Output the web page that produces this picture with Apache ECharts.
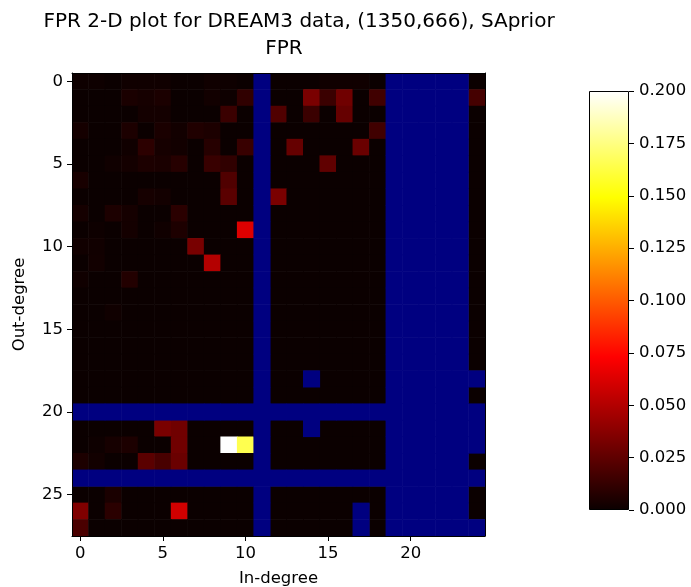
<!DOCTYPE html>
<html>
<head>
<meta charset="utf-8">
<script src="https://cdn.jsdelivr.net/npm/echarts@6/dist/echarts.min.js"></script>
<style>html,body{margin:0;padding:0;background:#fff}#c{width:691px;height:587px}</style>
</head>
<body>
<div id="c"></div>
<script>
const N = null; // masked (NaN) cell
const inDegree = Array.from({length: 25}, (_, i) => String(i));
const outDegree = Array.from({length: 28}, (_, i) => String(i));
const colorbarTicks = [0, 0.025, 0.05, 0.075, 0.1, 0.125, 0.15, 0.175, 0.2];
const fpr = [
 [0.001,0.001,0,0.0015,0.0015,0.0015,0,0,0.0015,0.001,0, N, 0,0,0,0.0015,0.0015,0.0015,0, N,N,N,N,N, 0],
 [0,0,0,0.0046,0.0035,0.005,0,0,0.0022,0.001,0.0112, N, 0,0,0.0333,0.0142,0.0303,0,0.016, N,N,N,N,N, 0.0175],
 [0,0,0,0,0.0028,0.0028,0,0,0,0.0142,0, N, 0.0207,0,0.0142,0,0.027,0,0, N,N,N,N,N, 0],
 [0.0032,0,0,0.0052,0,0.0046,0.0022,0.0064,0.0052,0,0, N, 0,0,0,0,0,0,0.016, N,N,N,N,N, 0],
 [0,0,0,0.0015,0.01,0.0035,0.0022,0,0.0082,0,0.0136, N, 0,0.027,0,0,0,0.0285,0, N,N,N,N,N, 0],
 [0,0,0.0015,0.0028,0.0052,0.0046,0.0082,0,0.0136,0.0112,0, N, 0,0,0,0.0255,0,0,0, N,N,N,N,N, 0],
 [0.004,0,0,0,0,0,0,0,0,0.0207,0, N, 0,0,0,0,0,0,0, N,N,N,N,N, 0],
 [0,0,0,0,0.0035,0.0025,0,0,0,0.0237,0, N, 0.0333,0,0,0,0,0,0, N,N,N,N,N, 0],
 [0.003,0,0.0052,0.0032,0,0,0.0094,0,0,0,0, N, 0,0,0,0,0,0,0, N,N,N,N,N, 0],
 [0,0.001,0,0.0028,0,0.0015,0.0055,0,0,0,0.0628, N, 0,0,0,0,0,0,0, N,N,N,N,N, 0],
 [0.002,0.002,0,0,0,0,0,0.0327,0,0,0, N, 0,0,0,0,0,0,0, N,N,N,N,N, 0],
 [0,0.0022,0,0,0,0,0,0,0.0507,0,0, N, 0,0,0,0,0,0,0, N,N,N,N,N, 0],
 [0.0015,0,0,0.007,0,0,0,0,0,0,0, N, 0,0,0,0,0,0,0, N,N,N,N,N, 0],
 [0,0,0,0,0,0,0,0,0,0,0, N, 0,0,0,0,0,0,0, N,N,N,N,N, 0],
 [0,0,0.0015,0,0,0,0,0,0,0,0, N, 0,0,0,0,0,0,0, N,N,N,N,N, 0],
 [0,0,0,0,0,0,0,0,0,0,0, N, 0,0,0,0,0,0,0, N,N,N,N,N, 0],
 [0,0,0,0,0,0,0,0,0,0,0, N, 0,0,0,0,0,0,0, N,N,N,N,N, 0],
 [0,0,0,0,0,0,0,0,0,0,0, N, 0,0,0,0,0,0,0, N,N,N,N,N, 0],
 [0,0,0,0,0,0,0,0,0,0,0, N, 0,0,N,0,0,0,0, N,N,N,N,N, N],
 [0,0,0,0,0,0,0,0,0,0,0, N, 0,0,0,0,0,0,0, N,N,N,N,N, 0],
 [N,N,N,N,N,N,N,N,N,N,N, N, N,N,N,N,N,N,N, N,N,N,N,N, N],
 [0,0,0,0,0,0.0333,0.0303,0,0,0,0, N, 0,0,N,0,0,0,0, N,N,N,N,N, N],
 [0,0.001,0.0035,0.0052,0,0,0.0303,0,0,0.2,0.165, N, 0,0,0,0,0,0,0, N,N,N,N,N, N],
 [0.0052,0.0022,0,0,0.0237,0.0184,0.0285,0,0,0,0, N, 0,0,0,0,0,0,0, N,N,N,N,N, 0],
 [N,N,N,N,N,N,N,N,N,N,N, N, N,N,N,N,N,N,N, N,N,N,N,N, N],
 [0,0,0.0046,0,0,0,0,0,0,0,0, N, 0,0,0,0,0,0,0, N,N,N,N,N, 0],
 [0.035,0,0.0094,0,0,0,0.059,0,0,0,0, N, 0,0,0,0,0,N,0, N,N,N,N,N, 0],
 [0.019,0,0,0,0,0,0,0,0,0,0, N, 0,0,0,0,0,N,0, N,N,N,N,N, N]
];

// matplotlib "hot" colormap
function hot(t) {
  const r = Math.min(1, 0.0416 + (1 - 0.0416) * t / 0.365);
  const g = t < 0.365 ? 0 : Math.min(1, (t - 0.365) / (0.746 - 0.365));
  const b = t < 0.746 ? 0 : Math.min(1, (t - 0.746) / (1 - 0.746));
  const h = v => Math.round(v * 255).toString(16).padStart(2, '0');
  return '#' + h(r) + h(g) + h(b);
}
const hotColors = Array.from({length: 81}, (_, i) => hot(i / 80));
const hotStops = [0, 0.1, 0.2, 0.3, 0.365, 0.45, 0.55, 0.65, 0.746, 0.85, 1].map(o => ({offset: o, color: hot(o)}));

const valid = [], masked = [];
fpr.forEach((row, r) => row.forEach((v, c) => {
  if (v === null) masked.push([c, r, 1]); else valid.push([c, r, v]);
}));

function cellRenderer(fixedColor) {
  return function (params, api) {
    const p = api.coord([api.value(0), api.value(1)]);
    const s = api.size([1, 1]);
    return {
      type: 'rect',
      shape: {x: p[0] - s[0] / 2 - 0.3, y: p[1] - s[1] / 2 - 0.3, width: s[0] + 0.6, height: s[1] + 0.6},
      style: {fill: fixedColor || api.visual('color'), stroke: null}
    };
  };
}

const font = 'DejaVu Sans';
const tickFont = 16.5;
const chart = echarts.init(document.getElementById('c'), null, {renderer: 'canvas'});
chart.setOption({
  animation: false,
  backgroundColor: '#fff',
  textStyle: {fontFamily: font},
  title: [
    {text: 'FPR 2-D plot for DREAM3 data, (1350,666), SAprior', left: 294, top: 7, textAlign: 'center',
     textStyle: {fontFamily: font, fontSize: 20, fontWeight: 'normal', color: '#000'}},
    {text: 'FPR', left: 279, top: 34, textAlign: 'center',
     textStyle: {fontFamily: font, fontSize: 20, fontWeight: 'normal', color: '#000'}}
  ],
  grid: [
    {left: 72, top: 73, width: 413, height: 463, outerBoundsMode: 'none', containLabel: false},
    {left: 589, top: 91, width: 40, height: 419, outerBoundsMode: 'none', containLabel: false}
  ],
  visualMap: {
    show: false, type: 'continuous', min: 0, max: 0.2, seriesIndex: 0, dimension: 2,
    inRange: {color: hotColors}
  },
  xAxis: [
    {type: 'category', data: inDegree, gridIndex: 0, position: 'bottom',
     name: 'In-degree', nameLocation: 'middle', nameGap: 34,
     nameTextStyle: {fontFamily: font, fontSize: tickFont, color: '#000'},
     axisLine: {show: true, lineStyle: {color: '#000', width: 1}},
     axisTick: {show: true, alignWithLabel: true, interval: 4, length: 5, lineStyle: {color: '#000'}},
     axisLabel: {interval: 4, fontFamily: font, fontSize: tickFont, color: '#000', margin: 9},
     splitLine: {show: false}, z: 5},
    {type: 'category', data: inDegree, gridIndex: 0, position: 'top',
     axisLine: {show: true, lineStyle: {color: '#000', width: 1}},
     axisTick: {show: false}, axisLabel: {show: false}, splitLine: {show: false}, z: 5},
    {type: 'category', data: ['cb'], gridIndex: 1, show: false}
  ],
  yAxis: [
    {type: 'category', data: outDegree, gridIndex: 0, inverse: true, position: 'left',
     name: 'Out-degree', nameLocation: 'middle', nameGap: 44, nameRotate: 90,
     nameTextStyle: {fontFamily: font, fontSize: tickFont, color: '#000'},
     axisLine: {show: true, lineStyle: {color: '#000', width: 1}},
     axisTick: {show: true, alignWithLabel: true, interval: 4, length: 5, lineStyle: {color: '#000'}},
     axisLabel: {interval: 4, fontFamily: font, fontSize: tickFont, color: '#000', margin: 9},
     splitLine: {show: false}, z: 5},
    {type: 'category', data: outDegree, gridIndex: 0, inverse: true, position: 'right',
     axisLine: {show: true, lineStyle: {color: '#000', width: 1}},
     axisTick: {show: false}, axisLabel: {show: false}, splitLine: {show: false}, z: 5},
    {type: 'value', gridIndex: 1, position: 'right', min: colorbarTicks[0], max: colorbarTicks[colorbarTicks.length - 1], interval: 0.025,
     axisLine: {show: false},
     axisTick: {show: true, length: 5, lineStyle: {color: '#000'}},
     axisLabel: {fontFamily: font, fontSize: tickFont, color: '#000', margin: 10, formatter: v => v.toFixed(3)},
     splitLine: {show: false}}
  ],
  series: [
    {type: 'custom', xAxisIndex: 0, yAxisIndex: 0, data: valid, encode: {x: 0, y: 1},
     renderItem: cellRenderer(null), clip: true, silent: true},
    {type: 'custom', xAxisIndex: 0, yAxisIndex: 0, data: masked, encode: {x: 0, y: 1},
     renderItem: cellRenderer('#000080'), clip: true, silent: true},
    {type: 'bar', xAxisIndex: 2, yAxisIndex: 2, data: [colorbarTicks[colorbarTicks.length - 1]],
     barWidth: '100%', silent: true,
     itemStyle: {borderColor: '#000', borderWidth: 1,
       color: new echarts.graphic.LinearGradient(0, 1, 0, 0, hotStops)}}
  ]
});
</script>
</body>
</html>
